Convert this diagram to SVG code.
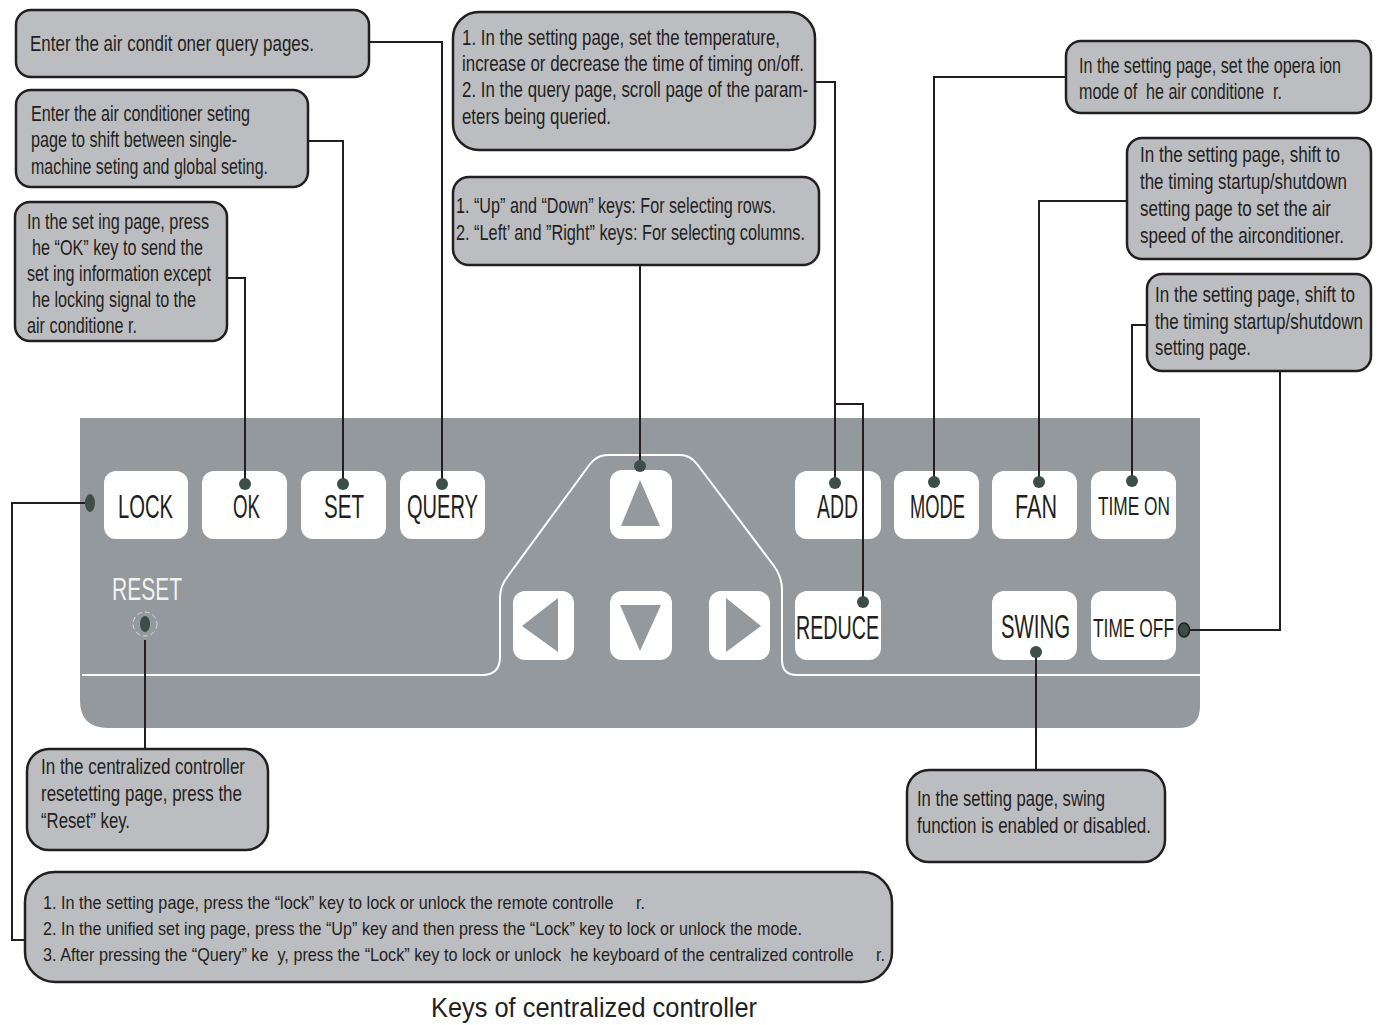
<svg xmlns="http://www.w3.org/2000/svg" width="1381" height="1025" viewBox="0 0 1381 1025">
<style>
.box{fill:#bcbdc0;stroke:#231f20;stroke-width:2.5}
.t{font-family:"Liberation Sans",Arial,sans-serif;font-size:21.5px;fill:#231f20}
.s{font-size:19px}
.key{fill:#ffffff}
.kl{font-family:"Liberation Sans",Arial,sans-serif;font-size:33px;fill:#231f20;text-anchor:start}
.kls{font-size:25px}
.dot{fill:#3d4d48}
.con{fill:none;stroke:#231f20;stroke-width:2}
.wl{fill:none;stroke:#ffffff;stroke-width:2}
.cap{font-size:27px}
</style>
<rect width="1381" height="1025" fill="#ffffff"/>

<g id="panel">
<path d="M80,418 H1200 V706 Q1200,728 1178,728 H108 Q80,728 80,700 Z" fill="#93999c"/>
<path class="wl" d="M82,675 H482 Q500,675 500,657 V598 Q500,586 508,576 L590,464 Q597,455 608,455 H680 Q690,455 697,464 L774,566 Q782,577 782,590 V660 Q782,675 797,675 H1200"/>
<text x="147" y="600" text-anchor="middle" font-family="'Liberation Sans',Arial,sans-serif" font-size="32" fill="#f2f2f2" textLength="70" lengthAdjust="spacingAndGlyphs">RESET</text>
<circle cx="145" cy="624" r="12" fill="none" stroke="#d8dadb" stroke-width="1" stroke-dasharray="5 3"/>
<ellipse class="dot" cx="145" cy="624" rx="5" ry="8"/>
<ellipse class="dot" cx="90" cy="503" rx="5" ry="9"/>
</g>

<g id="key-lock"><rect class="key" x="104" y="471" width="84" height="68" rx="12"/><text class="kl" x="118" y="518" textLength="55" lengthAdjust="spacingAndGlyphs">LOCK</text></g>
<g id="key-ok"><rect class="key" x="202" y="471" width="85" height="68" rx="12"/><text class="kl" x="233" y="518" textLength="27" lengthAdjust="spacingAndGlyphs">OK</text></g>
<g id="key-set"><rect class="key" x="301" y="471" width="85" height="68" rx="12"/><text class="kl" x="324" y="518" textLength="40" lengthAdjust="spacingAndGlyphs">SET</text></g>
<g id="key-query"><rect class="key" x="400" y="471" width="85" height="68" rx="12"/><text class="kl" x="407" y="518" textLength="71" lengthAdjust="spacingAndGlyphs">QUERY</text></g>
<g id="key-up"><rect class="key" x="610" y="470" width="62" height="69" rx="12"/><polygon points="640,480 621,526 660,526" fill="#93999c"/></g>
<g id="key-left"><rect class="key" x="513" y="591" width="61" height="69" rx="12"/><polygon points="522,626 558,598 558,652" fill="#93999c"/></g>
<g id="key-down"><rect class="key" x="610" y="591" width="62" height="69" rx="12"/><polygon points="620,605 661,605 640,651" fill="#93999c"/></g>
<g id="key-right"><rect class="key" x="709" y="591" width="61" height="69" rx="12"/><polygon points="726,598 761,626 726,652" fill="#93999c"/></g>
<g id="key-add"><rect class="key" x="795" y="471" width="86" height="68" rx="12"/><text class="kl" x="817" y="518" textLength="41" lengthAdjust="spacingAndGlyphs">ADD</text></g>
<g id="key-reduce"><rect class="key" x="795" y="591" width="86" height="69" rx="12"/><text class="kl" x="796" y="639" textLength="83" lengthAdjust="spacingAndGlyphs">REDUCE</text></g>
<g id="key-mode"><rect class="key" x="894" y="471" width="85" height="68" rx="12"/><text class="kl" x="910" y="518" textLength="55" lengthAdjust="spacingAndGlyphs">MODE</text></g>
<g id="key-fan"><rect class="key" x="992" y="471" width="85" height="68" rx="12"/><text class="kl" x="1015" y="518" textLength="42" lengthAdjust="spacingAndGlyphs">FAN</text></g>
<g id="key-timeon"><rect class="key" x="1091" y="471" width="85" height="68" rx="12"/><text class="kl kls" x="1098" y="515" textLength="72" lengthAdjust="spacingAndGlyphs">TIME ON</text></g>
<g id="key-swing"><rect class="key" x="992" y="591" width="85" height="69" rx="12"/><text class="kl" x="1001" y="638" textLength="69" lengthAdjust="spacingAndGlyphs">SWING</text></g>
<g id="key-timeoff"><rect class="key" x="1091" y="591" width="85" height="69" rx="12"/><text class="kl kls" x="1093" y="637" textLength="81" lengthAdjust="spacingAndGlyphs">TIME OFF</text></g>

<g id="connectors">
<path class="con" d="M85,503 H12 V940 H25"/>
<path class="con" d="M227,278 H245 V484"/>
<path class="con" d="M308,141 H343 V484"/>
<path class="con" d="M369,42 H442 V484"/>
<path class="con" d="M640,265 V466"/>
<path class="con" d="M815,82 H835 V483"/>
<path class="con" d="M835,404 H863 V602"/>
<path class="con" d="M1066,77 H934 V482"/>
<path class="con" d="M1127,201 H1039 V482"/>
<path class="con" d="M1147,325 H1132 V481"/>
<path class="con" d="M1280,371 V630 H1190"/>
<path class="con" d="M1036,652 V770"/>
<path class="con" d="M145,640 V749"/>
<circle class="dot" cx="245" cy="484" r="6"/>
<circle class="dot" cx="343" cy="484" r="6"/>
<circle class="dot" cx="442" cy="484" r="6"/>
<circle class="dot" cx="640" cy="466" r="6"/>
<circle class="dot" cx="835" cy="483" r="6"/>
<circle class="dot" cx="863" cy="602" r="6"/>
<circle class="dot" cx="934" cy="482" r="6"/>
<circle class="dot" cx="1039" cy="482" r="6"/>
<circle class="dot" cx="1132" cy="481" r="6"/>
<circle class="dot" cx="1036" cy="652" r="6"/>
<ellipse class="dot" cx="1184" cy="630" rx="5.5" ry="7" stroke="#231f20" stroke-width="1.5"/>
</g>

<g id="note-query">
<rect class="box" x="16" y="10" width="353" height="67" rx="15"/>
<text class="t" x="30" y="51" textLength="284" lengthAdjust="spacingAndGlyphs">Enter the air condit oner query pages.</text>
</g>
<g id="note-set">
<rect class="box" x="16" y="90" width="292" height="97" rx="15"/>
<text class="t" x="31" y="121" textLength="219" lengthAdjust="spacingAndGlyphs">Enter the air conditioner seting</text>
<text class="t" x="31" y="147" textLength="206" lengthAdjust="spacingAndGlyphs">page to shift between single-</text>
<text class="t" x="31" y="174" textLength="237" lengthAdjust="spacingAndGlyphs">machine seting and global seting.</text>
</g>
<g id="note-ok">
<rect class="box" x="15" y="202" width="212" height="139" rx="15"/>
<text class="t" x="27" y="229" textLength="182" lengthAdjust="spacingAndGlyphs">In the set ing page, press</text>
<text class="t" x="32" y="255" textLength="171" lengthAdjust="spacingAndGlyphs">he “OK” key to send the</text>
<text class="t" x="27" y="281" textLength="184" lengthAdjust="spacingAndGlyphs">set ing information except</text>
<text class="t" x="32" y="307" textLength="164" lengthAdjust="spacingAndGlyphs">he locking signal to the</text>
<text class="t" x="27" y="333" textLength="110" lengthAdjust="spacingAndGlyphs">air conditione r.</text>
</g>
<g id="note-add">
<rect class="box" x="453" y="12" width="362" height="138" rx="26"/>
<text class="t" x="462" y="45" textLength="318" lengthAdjust="spacingAndGlyphs">1. In the setting page, set the temperature,</text>
<text class="t" x="462" y="71" textLength="342" lengthAdjust="spacingAndGlyphs">increase or decrease the time of timing on/off.</text>
<text class="t" x="462" y="97" textLength="346" lengthAdjust="spacingAndGlyphs">2. In the query page, scroll page of the param-</text>
<text class="t" x="462" y="124" textLength="149" lengthAdjust="spacingAndGlyphs">eters being queried.</text>
</g>
<g id="note-arrows">
<rect class="box" x="453" y="177" width="366" height="88" rx="16"/>
<text class="t" x="456" y="213" textLength="320" lengthAdjust="spacingAndGlyphs">1. “Up” and “Down” keys: For selecting rows.</text>
<text class="t" x="456" y="240" textLength="349" lengthAdjust="spacingAndGlyphs">2. “Left’ and ”Right” keys: For selecting columns.</text>
</g>
<g id="note-mode">
<rect class="box" x="1066" y="41" width="305" height="72" rx="15"/>
<text class="t" x="1079" y="73" textLength="262" lengthAdjust="spacingAndGlyphs">In the setting page, set the opera ion</text>
<text class="t" x="1079" y="99" xml:space="preserve" textLength="203" lengthAdjust="spacingAndGlyphs">mode of  he air conditione  r.</text>
</g>
<g id="note-fan">
<rect class="box" x="1127" y="138" width="244" height="121" rx="15"/>
<text class="t" x="1140" y="162" textLength="200" lengthAdjust="spacingAndGlyphs">In the setting page, shift to</text>
<text class="t" x="1140" y="189" textLength="207" lengthAdjust="spacingAndGlyphs">the timing startup/shutdown</text>
<text class="t" x="1140" y="216" textLength="191" lengthAdjust="spacingAndGlyphs">setting page to set the air</text>
<text class="t" x="1140" y="243" textLength="204" lengthAdjust="spacingAndGlyphs">speed of the airconditioner.</text>
</g>
<g id="note-timeon">
<rect class="box" x="1147" y="274" width="224" height="97" rx="15"/>
<text class="t" x="1155" y="302" textLength="200" lengthAdjust="spacingAndGlyphs">In the setting page, shift to</text>
<text class="t" x="1155" y="329" textLength="208" lengthAdjust="spacingAndGlyphs">the timing startup/shutdown</text>
<text class="t" x="1155" y="355" textLength="96" lengthAdjust="spacingAndGlyphs">setting page.</text>
</g>
<g id="note-reset">
<rect class="box" x="27" y="749" width="241" height="101" rx="22"/>
<text class="t" x="41" y="774" textLength="204" lengthAdjust="spacingAndGlyphs">In the centralized controller</text>
<text class="t" x="41" y="801" textLength="201" lengthAdjust="spacingAndGlyphs">resetetting page, press the</text>
<text class="t" x="41" y="828" textLength="89" lengthAdjust="spacingAndGlyphs">“Reset” key.</text>
</g>
<g id="note-swing">
<rect class="box" x="907" y="770" width="258" height="92" rx="22"/>
<text class="t" x="917" y="806" textLength="188" lengthAdjust="spacingAndGlyphs">In the setting page, swing</text>
<text class="t" x="917" y="833" textLength="234" lengthAdjust="spacingAndGlyphs">function is enabled or disabled.</text>
</g>
<g id="note-lock">
<rect class="box" x="25" y="872" width="867" height="110" rx="30"/>
<text class="t s" x="43" y="909" xml:space="preserve" textLength="602" lengthAdjust="spacingAndGlyphs">1. In the setting page, press the “lock” key to lock or unlock the remote controlle     r.</text>
<text class="t s" x="43" y="935" textLength="759" lengthAdjust="spacingAndGlyphs">2. In the unified set ing page, press the “Up” key and then press the “Lock” key to lock or unlock the mode.</text>
<text class="t s" x="43" y="961" xml:space="preserve" textLength="842" lengthAdjust="spacingAndGlyphs">3. After pressing the “Query” ke  y, press the “Lock” key to lock or unlock  he keyboard of the centralized controlle     r.</text>
</g>

<text id="caption" class="t cap" x="431" y="1017" textLength="326" lengthAdjust="spacingAndGlyphs">Keys of centralized controller</text>
</svg>
